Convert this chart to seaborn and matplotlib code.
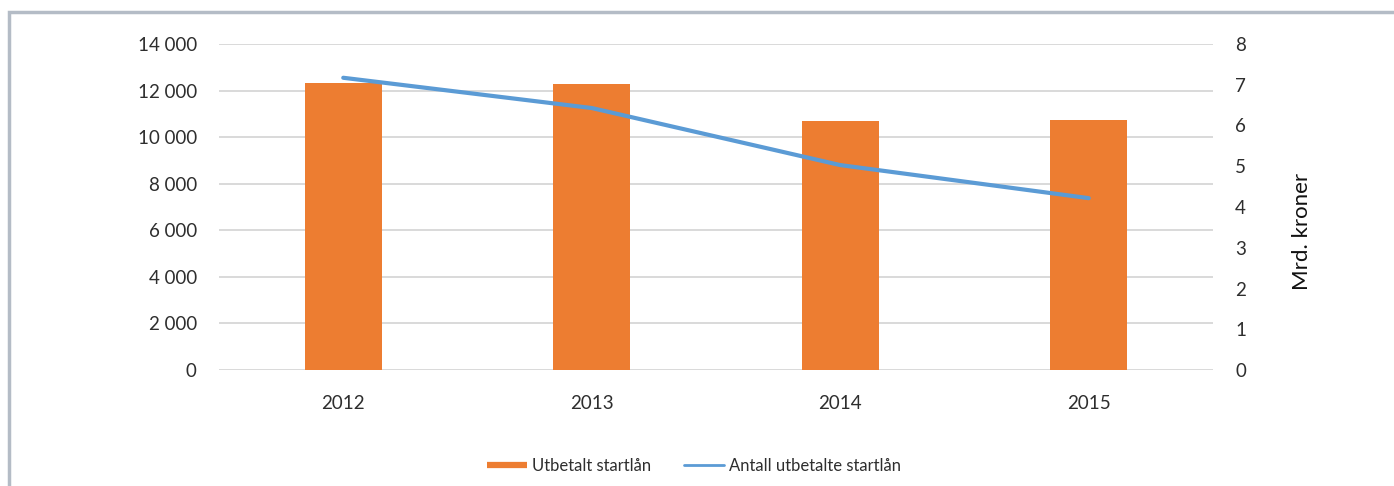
import matplotlib
matplotlib.use("Agg")
import matplotlib.pyplot as plt
import seaborn as sns
import numpy as np
import pandas as pd
from matplotlib.lines import Line2D
from matplotlib.patches import Rectangle

years = ["2012", "2013", "2014", "2015"]
utbetalt_mrd = [7.04, 7.01, 6.10, 6.13]          # Mrd. kroner (bars, right axis)
antall = [12550, 11250, 8800, 7380]               # count (line, left axis)
left_ticks = [0, 2000, 4000, 6000, 8000, 10000, 12000, 14000]
left_labels = ["0", "2 000", "4 000", "6 000", "8 000", "10 000", "12 000", "14 000"]
right_ticks = [0, 1, 2, 3, 4, 5, 6, 7, 8]
bar_label = "Utbetalt startlån"
line_label = "Antall utbetalte startlån"
right_axis_label = "Mrd. kroner"

sns.set_theme(style="white")
plt.rcParams["font.family"] = ["Lato", "DejaVu Sans"]
text_color = "#2E2E2E"
bar_color = "#ED7D31"
line_color = "#5B9BD5"
grid_color = "#D9D9D9"
tick_fs = 13.5

fig = plt.figure(figsize=(13.94, 4.86), dpi=100)
rect = [219/1394, 1-370/486, (1213-219)/1394, (370-44)/486]

# base axes: left scale, gridlines and left tick labels
ax = fig.add_axes(rect)
ax.set_ylim(0, 14000)
ax.set_xlim(-0.5, len(years) - 0.5)
ax.set_yticks(left_ticks)
ax.set_yticklabels(left_labels)
ax.grid(axis="y", color=grid_color, linewidth=1.4)
ax.tick_params(axis="y", length=0, pad=16, labelsize=tick_fs, labelcolor=text_color)

# bars on right scale
axb = ax.twinx()
df_bar = pd.DataFrame({"year": years, "value": utbetalt_mrd})
sns.barplot(data=df_bar, x="year", y="value", ax=axb, color=bar_color,
            width=0.31, saturation=1, edgecolor="none")
axb.set_ylim(0, 8)
axb.set_xlim(-0.5, len(years) - 0.5)
axb.set_yticks(right_ticks)
axb.set_xlabel("")
axb.yaxis.tick_right()
axb.yaxis.set_label_position("right")
axb.set_ylabel(right_axis_label, fontsize=16, color="#111111", va="center")
axb.yaxis.set_label_coords((1302-219)/994, (370-231)/326)
axb.tick_params(axis="y", length=0, pad=16, labelsize=tick_fs, labelcolor=text_color)
axb.grid(False)

# line on left scale, on top
axl = ax.twinx()
sns.lineplot(x=np.arange(len(years)), y=antall, ax=axl, color=line_color,
             linewidth=3, legend=False)
axl.set_ylim(0, 14000)
axl.set_xlim(-0.5, len(years) - 0.5)
axl.set_yticks([])
axl.set_ylabel("")
axl.grid(False)

ax.set_xticks(range(len(years)))
ax.set_xticklabels(years)
ax.tick_params(axis="x", length=0, pad=18, labelsize=tick_fs, labelcolor=text_color)
for a in (ax, axb, axl):
    for s in a.spines.values():
        s.set_visible(False)
axb.tick_params(axis="x", bottom=False, labelbottom=False)
axl.tick_params(axis="x", bottom=False, labelbottom=False)
ax.yaxis.tick_left()

handles = [Line2D([0], [0], color=bar_color, linewidth=4.5, solid_capstyle="butt"),
           Line2D([0], [0], color=line_color, linewidth=2)]
fig.legend(handles, [bar_label, line_label], loc="center", bbox_to_anchor=(694/1394, 1-466/486),
           ncol=2, frameon=False, fontsize=12, labelcolor=text_color,
           handlelength=2.4, handletextpad=0.3, columnspacing=2.0)

fig.patches.append(Rectangle((9/1394, -0.1), 1.2, 1-12/486 + 0.1, transform=fig.transFigure,
                             fill=False, edgecolor="#B4BCC6", linewidth=2.5, zorder=0))

fig.savefig("out.png", dpi=100, facecolor="white")
